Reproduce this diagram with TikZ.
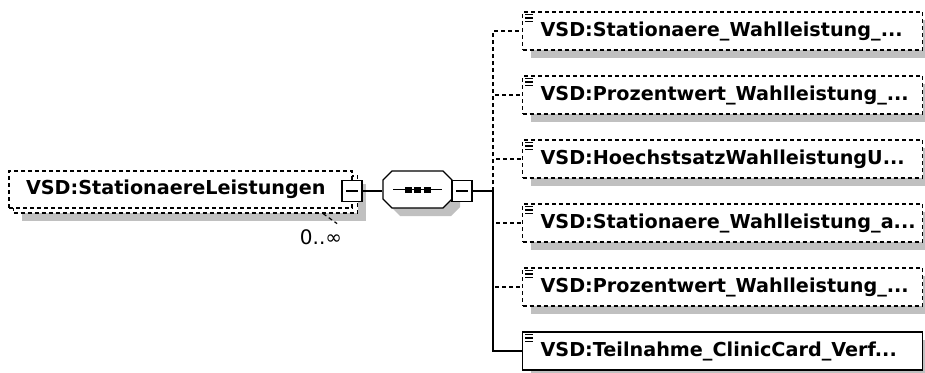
\documentclass[tikz,border=0pt]{standalone}
\usepackage{fontspec}
\newfontfamily\xsdfont{DejaVu Sans}
\usepackage{xcolor}
\usetikzlibrary{shadows}
\definecolor{shadowgray}{RGB}{192,192,192}

\begin{document}
\begin{tikzpicture}[x=1pt, y=-1pt, line width=1.2pt,
  every node/.style={font=\xsdfont\bfseries\fontsize{19.2}{21}\selectfont},
  optional/.style={dash pattern=on 4pt off 3pt},
  greyshadow/.style={drop shadow={shadow xshift=8pt, shadow yshift=-8pt, fill=shadowgray, opacity=1}},
  elembox/.style={draw, fill=white, rectangle, inner sep=0pt, inner xsep=18pt, minimum height=38pt, text width=364pt, align=left, anchor=west, greyshadow},
  minusbox/.style={draw, fill=white, rectangle, inner sep=0pt, minimum width=20pt, minimum height=21pt,
    path picture={\draw ([xshift=4pt]path picture bounding box.west) -- ([xshift=-4pt]path picture bounding box.east);}}
  ]
  \def\busx{493}
  \def\liney{191}

  \useasboundingbox (0,0) rectangle (925,372);

  \node[draw, optional, fill=white, inner sep=0pt, minimum width=344pt, minimum height=37pt, greyshadow] (elemback) at (185.5,194.5) {};
  \node[draw, optional, fill=white, inner sep=0pt, inner xsep=17pt, minimum height=37pt, text width=309pt, align=left] (elem) at (180.5,189.5) {VSD:StationaereLeistungen};
  \node[minusbox] (elemminus) at (352,\liney) {};
  \draw[optional] ([xshift=-35pt]elemback.south east) -- ++(14,10);
  \node[font=\xsdfont\fontsize{20}{22}\selectfont] (mult) at (321,237) {0..∞};

  \fill[shadowgray, shift={(8,8)}] (383,180) -- (392,171) -- (443,171) -- (452,180) -- (452,199) -- (443,208) -- (392,208) -- (383,199) -- cycle;
  \draw[fill=white] (383,180) -- (392,171) -- (443,171) -- (452,180) -- (452,199) -- (443,208) -- (392,208) -- (383,199) -- cycle;
  \node[inner sep=0pt, minimum width=69pt, minimum height=37pt] (seq) at (417.5,189.5) {};
  \draw ([xshift=-24.5pt]seq.center) -- ([xshift=24.5pt]seq.center);
  \foreach \dx in {-9.5,0,9.5}
    \fill ([shift={(\dx-3.5,-3)}]seq.center) rectangle ++(7,6);
  \node[minusbox] (seqminus) at (462,\liney) {};
  \coordinate (bus) at (\busx,\liney);

  \node[elembox, optional] (c1) at (522,31) {VSD:Stationaere\_Wahlleistung\_...};
  \node[elembox, optional] (c2) at (522,95) {VSD:Prozentwert\_Wahlleistung\_...};
  \node[elembox, optional] (c3) at (522,159) {VSD:HoechstsatzWahlleistungU...};
  \node[elembox, optional] (c4) at (522,223) {VSD:Stationaere\_Wahlleistung\_a...};
  \node[elembox, optional] (c5) at (522,287) {VSD:Prozentwert\_Wahlleistung\_...};
  \node[elembox] (c6) at (522,351) {VSD:Teilnahme\_ClinicCard\_Verf...};

  \foreach \n in {c1,c2,c3,c4,c5,c6}
    \foreach \dy in {3,6.5,10}
      \draw[line width=1.2pt] ([shift={(3,\dy)}]\n.north west) -- ++(8,0);

  \draw (elemminus.east) -- (elemminus.east -| seq.west);
  \draw (seqminus.east) -- (bus);
  \draw[optional] (bus) |- (c1.west);
  \draw[optional] (bus) |- (c2.west);
  \draw[optional] (bus) |- (c3.west);
  \draw (bus) |- (c6.west);
  \draw[optional] (bus) |- (c4.west);
  \draw[optional] (bus) |- (c5.west);

\end{tikzpicture}
\end{document}
